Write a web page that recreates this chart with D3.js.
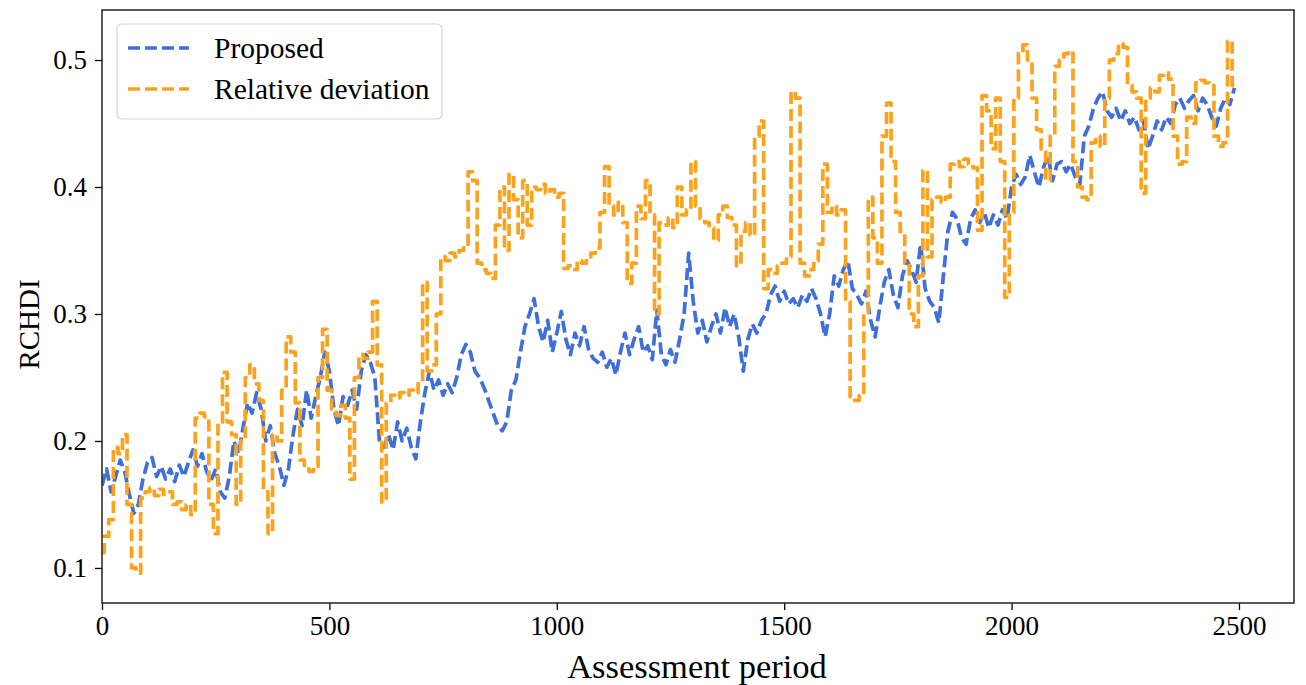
<!DOCTYPE html>
<html>
<head>
<meta charset="utf-8">
<script src="https://cdn.jsdelivr.net/npm/d3@7"></script>
<style>
  body { margin: 0; background: #fff; }
  text { font-family: "Liberation Serif", "Times New Roman", serif; fill: #000; }
</style>
</head>
<body>
<div id="chart"></div>
<script>

//////////////////////////////////////////////////////////////////////////////
// Data, every 10 assessment periods

var sampleStep = 10;

var proposed = [
  0.165, 0.178, 0.160, 0.172, 0.185, 0.176, 0.158, 0.143, 0.150, 0.170,
  0.183, 0.187, 0.172, 0.180, 0.170, 0.178, 0.168, 0.181, 0.172, 0.183,
  0.193, 0.180, 0.190, 0.176, 0.169, 0.178, 0.160, 0.155, 0.172, 0.200,
  0.190, 0.210, 0.230, 0.222, 0.238, 0.225, 0.200, 0.212, 0.190, 0.180,
  0.165, 0.178, 0.205, 0.225, 0.212, 0.240, 0.218, 0.235, 0.250, 0.270,
  0.255, 0.225, 0.212, 0.235, 0.228, 0.240, 0.225, 0.255, 0.268, 0.262,
  0.250, 0.200, 0.195, 0.205, 0.193, 0.215, 0.200, 0.210, 0.195, 0.186,
  0.215, 0.238, 0.255, 0.240, 0.248, 0.236, 0.245, 0.238, 0.250, 0.268,
  0.276, 0.270, 0.255, 0.250, 0.242, 0.232, 0.222, 0.212, 0.208, 0.215,
  0.240, 0.248, 0.270, 0.290, 0.300, 0.312, 0.290, 0.278, 0.295, 0.270,
  0.285, 0.302, 0.280, 0.268, 0.285, 0.275, 0.290, 0.272, 0.265, 0.262,
  0.270, 0.258, 0.265, 0.252, 0.270, 0.285, 0.268, 0.280, 0.290, 0.270,
  0.275, 0.264, 0.303, 0.268, 0.260, 0.272, 0.262, 0.280, 0.300, 0.348,
  0.310, 0.285, 0.295, 0.278, 0.290, 0.300, 0.285, 0.305, 0.290, 0.300,
  0.282, 0.255, 0.280, 0.292, 0.285, 0.295, 0.300, 0.315, 0.322, 0.310,
  0.318, 0.308, 0.312, 0.305, 0.315, 0.310, 0.320, 0.312, 0.300, 0.282,
  0.300, 0.330, 0.322, 0.335, 0.342, 0.320, 0.315, 0.308, 0.318, 0.295,
  0.282, 0.305, 0.325, 0.335, 0.315, 0.305, 0.330, 0.342, 0.335, 0.325,
  0.355, 0.320, 0.310, 0.305, 0.293, 0.330, 0.365, 0.380, 0.375, 0.360,
  0.355, 0.375, 0.382, 0.372, 0.380, 0.368, 0.378, 0.370, 0.382, 0.375,
  0.400, 0.410, 0.402, 0.408, 0.425, 0.412, 0.400, 0.415, 0.425, 0.405,
  0.418, 0.420, 0.412, 0.418, 0.408, 0.402, 0.440, 0.448, 0.462, 0.470,
  0.475, 0.460, 0.455, 0.462, 0.452, 0.460, 0.450, 0.455, 0.445, 0.452,
  0.430, 0.440, 0.452, 0.445, 0.455, 0.450, 0.465, 0.470, 0.462, 0.468,
  0.472, 0.460, 0.470, 0.465, 0.455, 0.448, 0.462, 0.470, 0.465, 0.478
];

var relativeDeviation = [
  0.112, 0.125, 0.138, 0.195, 0.190, 0.205, 0.150, 0.100, 0.096, 0.155,
  0.160, 0.163, 0.157, 0.162, 0.158, 0.160, 0.150, 0.152, 0.146, 0.150,
  0.142, 0.218, 0.222, 0.219, 0.150, 0.127, 0.215, 0.254, 0.215, 0.205,
  0.150, 0.200, 0.250, 0.260, 0.245, 0.232, 0.160, 0.127, 0.205, 0.200,
  0.240, 0.282, 0.270, 0.230, 0.185, 0.178, 0.176, 0.180, 0.250, 0.288,
  0.240, 0.225, 0.220, 0.228, 0.218, 0.170, 0.250, 0.268, 0.265, 0.270,
  0.310, 0.260, 0.152, 0.230, 0.236, 0.234, 0.238, 0.236, 0.240, 0.238,
  0.245, 0.325, 0.255, 0.260, 0.300, 0.345, 0.342, 0.348, 0.345, 0.350,
  0.355, 0.412, 0.405, 0.340, 0.335, 0.332, 0.328, 0.370, 0.400, 0.350,
  0.410, 0.390, 0.360, 0.405, 0.370, 0.400, 0.398, 0.402, 0.395, 0.398,
  0.392, 0.395, 0.336, 0.338, 0.335, 0.342, 0.340, 0.345, 0.348, 0.352,
  0.380, 0.416, 0.385, 0.378, 0.388, 0.372, 0.324, 0.340, 0.385, 0.375,
  0.405, 0.378, 0.300, 0.372, 0.370, 0.376, 0.368, 0.400, 0.378, 0.382,
  0.420, 0.385, 0.375, 0.372, 0.368, 0.358, 0.378, 0.385, 0.376, 0.370,
  0.338, 0.365, 0.372, 0.362, 0.440, 0.452, 0.320, 0.335, 0.332, 0.338,
  0.340, 0.345, 0.475, 0.470, 0.340, 0.330, 0.335, 0.342, 0.355, 0.418,
  0.380, 0.385, 0.378, 0.382, 0.310, 0.235, 0.232, 0.236, 0.300, 0.392,
  0.360, 0.340, 0.440, 0.466, 0.420, 0.380, 0.365, 0.340, 0.300, 0.290,
  0.330, 0.413, 0.345, 0.390, 0.392, 0.388, 0.392, 0.418, 0.420, 0.416,
  0.422, 0.418, 0.415, 0.366, 0.472, 0.460, 0.430, 0.470, 0.420, 0.313,
  0.380, 0.470, 0.505, 0.512, 0.500, 0.470, 0.445, 0.430, 0.405, 0.440,
  0.495, 0.500, 0.505, 0.507, 0.420, 0.400, 0.392, 0.390, 0.435, 0.440,
  0.432, 0.470, 0.500, 0.505, 0.513, 0.510, 0.480, 0.475, 0.470, 0.395,
  0.470, 0.478, 0.475, 0.488, 0.490, 0.485, 0.440, 0.418, 0.420, 0.455,
  0.450, 0.482, 0.484, 0.482, 0.480, 0.440, 0.432, 0.435, 0.515, 0.480
];

var seriesNames = ["Proposed", "Relative deviation"];
var seriesColors = ["#3f6fd8", "#fba31c"];
var xTicks = [0, 500, 1000, 1500, 2000, 2500];
var yTicks = [0.1, 0.2, 0.3, 0.4, 0.5];

//////////////////////////////////////////////////////////////////////////////
// Layout

var width = 1306, height = 685;
var plot = { left: 102, right: 1294, top: 10, bottom: 603 };

var xScale = d3.scaleLinear().domain([0, 2621]).range([plot.left, plot.right]);
var yScale = d3.scaleLinear().domain([0.0724, 0.5394]).range([plot.bottom, plot.top]);

var svg = d3.select("#chart")
    .append("svg")
    .attr("width", width)
    .attr("height", height);

function toPoints(values) {
    return values.map(function(v, i) { return [i * sampleStep, v]; });
}

// blue wiggles, the orange one jumps between plateaus
var curves = [d3.curveLinear, d3.curveStep];

function makeLine(curve) {
    return d3.line()
        .curve(curve)
        .x(function(d) { return xScale(d[0]); })
        .y(function(d) { return yScale(d[1]); });
}

svg.append("defs").append("clipPath").attr("id", "clip")
    .append("rect")
    .attr("x", plot.left).attr("y", plot.top)
    .attr("width", plot.right - plot.left)
    .attr("height", plot.bottom - plot.top);

var lines = svg.append("g").attr("clip-path", "url(#clip)");

[proposed, relativeDeviation].forEach(function(values, i) {
    lines.append("path")
        .datum(toPoints(values))
        .attr("d", makeLine(curves[i]))
        .attr("fill", "none")
        .attr("stroke", seriesColors[i])
        .attr("stroke-width", 3.7)
        .attr("stroke-linejoin", "round")
        .attr("stroke-dasharray", "12,5");
});

// axes
var xAxis = svg.append("g")
    .attr("transform", "translate(0," + plot.bottom + ")")
    .call(d3.axisBottom(xScale).tickValues(xTicks).tickSize(7).tickPadding(6)
          .tickFormat(d3.format("d")));

var yAxis = svg.append("g")
    .attr("transform", "translate(" + plot.left + ",0)")
    .call(d3.axisLeft(yScale).tickValues(yTicks).tickSize(7).tickPadding(8)
          .tickFormat(d3.format(".1f")));

[xAxis, yAxis].forEach(function(ax) {
    ax.select(".domain").remove();
    ax.selectAll(".tick line").attr("stroke", "#000").attr("stroke-width", 1.3);
    ax.selectAll(".tick text")
        .style("font-family", "'Liberation Serif', serif")
        .style("font-size", "27px");
});

// frame
svg.append("rect")
    .attr("x", plot.left).attr("y", plot.top)
    .attr("width", plot.right - plot.left)
    .attr("height", plot.bottom - plot.top)
    .attr("fill", "none")
    .attr("stroke", "#222")
    .attr("stroke-width", 1.5);

// axis titles
svg.append("text")
    .attr("x", 697)
    .attr("y", 678)
    .attr("text-anchor", "middle")
    .style("font-size", "34.5px")
    .text("Assessment period");

svg.append("text")
    .attr("transform", "translate(39," + ((plot.top + plot.bottom) / 2 + 18) + ") rotate(-90)")
    .attr("text-anchor", "middle")
    .style("font-size", "29px")
    .text("RCHDI");

// legend
var legend = svg.append("g");
legend.append("rect")
    .attr("x", 117).attr("y", 24)
    .attr("width", 325).attr("height", 95)
    .attr("rx", 5)
    .attr("fill", "#fff")
    .attr("fill-opacity", 0.8)
    .attr("stroke", "#d5d5d5")
    .attr("stroke-width", 1.2);

seriesNames.forEach(function(name, i) {
    var y = 48 + i * 41;
    legend.append("line")
        .attr("x1", 128).attr("x2", 189)
        .attr("y1", y).attr("y2", y)
        .attr("stroke", seriesColors[i])
        .attr("stroke-width", 3.7)
        .attr("stroke-dasharray", "12,5");
    legend.append("text")
        .attr("x", 214)
        .attr("y", y + 10)
        .style("font-size", "29.5px")
        .text(name);
});
</script>
</body>
</html>
